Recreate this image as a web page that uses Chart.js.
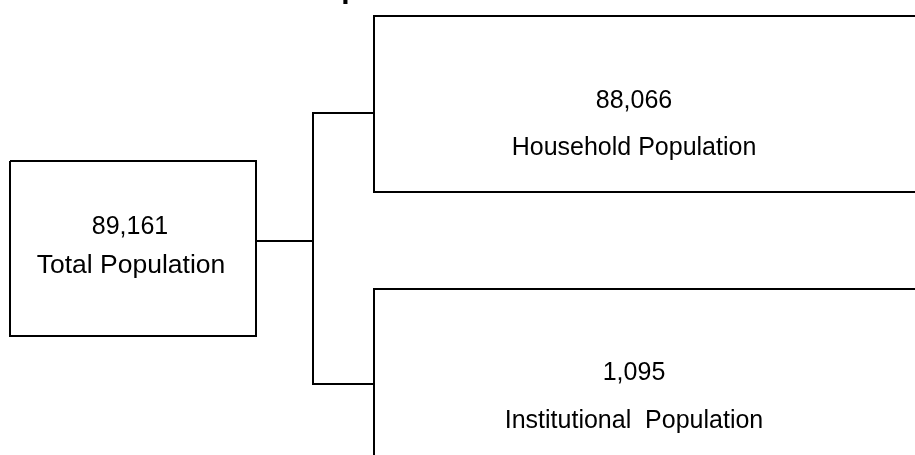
<!DOCTYPE html>
<html>
<head>
<meta charset="utf-8">
<script src="https://cdn.jsdelivr.net/npm/chart.js@4"></script>
<style>
  html, body { margin: 0; padding: 0; background: #fff; }
  #wrap { width: 915px; height: 455px; }
</style>
</head>
<body>
<div id="wrap"><canvas id="tree"></canvas></div>
<script>
/*--------------------DATA--------------------*/
const nodeLabels = ['Total Population', 'Household Population', 'Institutional  Population'];
const nodeValues = [89161, 88066, 1095];
const titleText = 'Population';

/*--------------------LAYOUT (diagram units = px)--------------------*/
// box outlines, open sides run past the edge of the picture
const boxPaths = [
    [[10, 161], [256, 161], [256, 336], [10, 336], [10, 161]],
    [[930, 16], [374, 16], [374, 192], [930, 192]],
    [[930, 289], [374, 289], [374, 470]]
];
const linkPaths = [
    [[256, 241], [313, 241]],
    [[374, 113], [313, 113], [313, 384], [374, 384]]
];
const valueX = [130, 634, 634];
const labelX = [131, 634, 634];
const valueY = [234, 108, 380];
const labelY = [273, 155, 428];
const labelSize = [26.5, 25, 25];

/*--------------------CHART--------------------*/
function toPoints(path) {
    return path.map((p) => ({ x: p[0], y: p[1] }));
}

let datasets = boxPaths.concat(linkPaths).map((path) => ({
    data: toPoints(path),
    showLine: true,
    borderColor: '#000',
    borderWidth: 2,
    borderJoinStyle: 'miter',
    borderCapStyle: 'butt',
    pointRadius: 0,
    fill: false,
    tension: 0
}));

const nodeText = {
    id: 'nodeText',
    afterDatasetsDraw(chart) {
        let ctx = chart.ctx;
        let sx = chart.scales.x;
        let sy = chart.scales.y;
        ctx.save();
        ctx.fillStyle = '#000';
        ctx.textAlign = 'center';
        ctx.textBaseline = 'alphabetic';
        for (let i = 0; i < nodeLabels.length; i++) {
            ctx.font = '25px "Liberation Sans", Arial, sans-serif';
            ctx.fillText(nodeValues[i].toLocaleString('en-US'),
                sx.getPixelForValue(valueX[i]), sy.getPixelForValue(valueY[i]));
            ctx.font = labelSize[i] + 'px "Liberation Sans", Arial, sans-serif';
            ctx.fillText(nodeLabels[i], sx.getPixelForValue(labelX[i]), sy.getPixelForValue(labelY[i]));
        }
        // heading sits above the picture, only a descender shows
        ctx.font = 'bold 30px "Liberation Sans", Arial, sans-serif';
        ctx.textAlign = 'left';
        ctx.fillText(titleText, sx.getPixelForValue(303), sy.getPixelForValue(-2));
        ctx.restore();
    }
};

let treeChart = new Chart(document.getElementById('tree'), {
    type: 'scatter',
    data: { datasets: datasets },
    options: {
        responsive: true,
        maintainAspectRatio: false,
        animation: false,
        layout: { padding: 0 },
        scales: {
            x: { type: 'linear', min: 0, max: 915, display: false },
            y: { type: 'linear', min: 0, max: 455, reverse: true, display: false }
        },
        plugins: {
            legend: { display: false },
            tooltip: { enabled: false },
            title: { display: false }
        }
    },
    plugins: [nodeText]
});
</script>
</body>
</html>
